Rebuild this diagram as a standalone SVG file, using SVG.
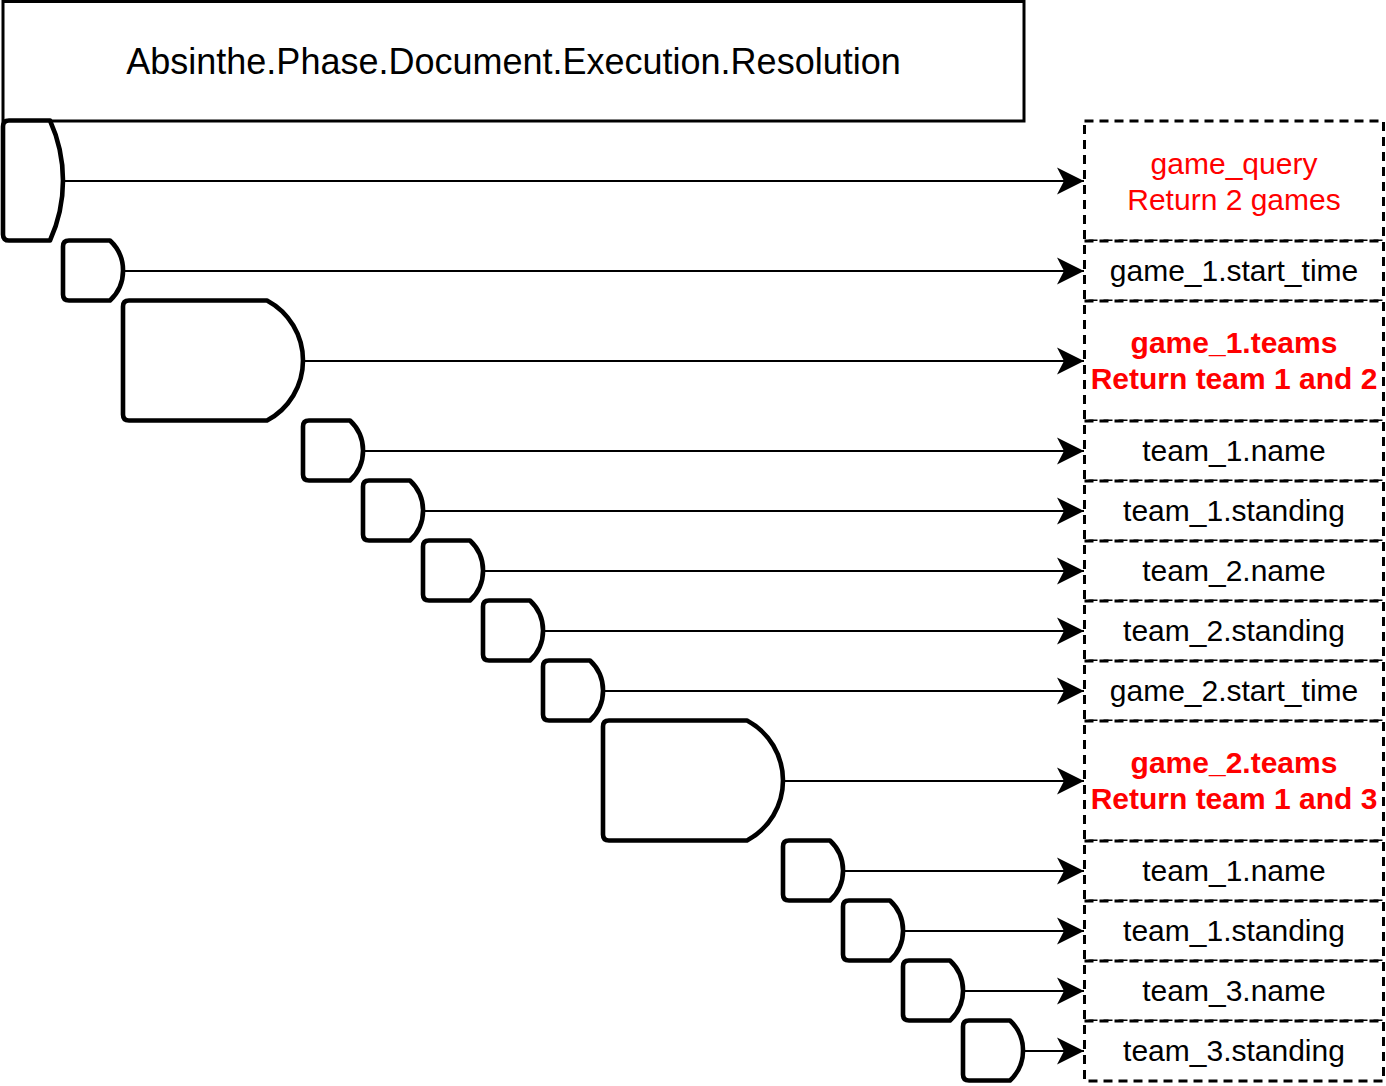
<svg xmlns="http://www.w3.org/2000/svg" width="1386" height="1086" viewBox="0 0 1386 1086">
<style>
  .title { fill: #ffffff; stroke: #000000; stroke-width: 3; }
  .gate { fill: #ffffff; stroke: #000000; stroke-width: 4.6; stroke-linejoin: round; }
  .box { fill: #ffffff; stroke: #000000; stroke-width: 3; stroke-dasharray: 9 6; }
  .conn { stroke: #000000; stroke-width: 2.2; fill: none; }
  text { font-family: "Liberation Sans", Arial, sans-serif; text-anchor: middle; }
  .t36 { font-size: 36px; fill: #000000; }
  .lbl { font-size: 30px; fill: #000000; }
  .red { font-size: 30px; fill: #ff0000; }
  .redb { font-size: 30px; fill: #ff0000; font-weight: bold; }
</style>
<defs>
  <marker id="arr" markerUnits="userSpaceOnUse" markerWidth="28" markerHeight="28" refX="27" refY="13.5" orient="auto" viewBox="0 0 28 27">
    <path d="M0,0 L27,13.5 L0,27 L7,13.5 Z" fill="#000000"/>
  </marker>
</defs>

<g id="resolution">
  <rect class="title" x="3" y="1.5" width="1021" height="119.5"/>
  <text class="t36" x="513.5" y="74">Absinthe.Phase.Document.Execution.Resolution</text>
</g>

<g id="gates">
  <path id="g1" class="gate" d="M9,120.5 L50,120.5 A145,145 0 0 1 50,240.5 L9,240.5 Q3,240.5 3,234.5 L3,126.5 Q3,120.5 9,120.5 Z"/>
  <path id="g2" class="gate" d="M69,240.5 L110,240.5 A41,41 0 0 1 110,300.5 L69,300.5 Q63,300.5 63,294.5 L63,246.5 Q63,240.5 69,240.5 Z"/>
  <path id="g3" class="gate" d="M129,300.5 L267,300.5 A68,68 0 0 1 267,420.5 L129,420.5 Q123,420.5 123,414.5 L123,306.5 Q123,300.5 129,300.5 Z"/>
  <path id="g4" class="gate" d="M309,420.5 L350,420.5 A41,41 0 0 1 350,480.5 L309,480.5 Q303,480.5 303,474.5 L303,426.5 Q303,420.5 309,420.5 Z"/>
  <path id="g5" class="gate" d="M369,480.5 L410,480.5 A41,41 0 0 1 410,540.5 L369,540.5 Q363,540.5 363,534.5 L363,486.5 Q363,480.5 369,480.5 Z"/>
  <path id="g6" class="gate" d="M429,540.5 L470,540.5 A41,41 0 0 1 470,600.5 L429,600.5 Q423,600.5 423,594.5 L423,546.5 Q423,540.5 429,540.5 Z"/>
  <path id="g7" class="gate" d="M489,600.5 L530,600.5 A41,41 0 0 1 530,660.5 L489,660.5 Q483,660.5 483,654.5 L483,606.5 Q483,600.5 489,600.5 Z"/>
  <path id="g8" class="gate" d="M549,660.5 L590,660.5 A41,41 0 0 1 590,720.5 L549,720.5 Q543,720.5 543,714.5 L543,666.5 Q543,660.5 549,660.5 Z"/>
  <path id="g9" class="gate" d="M609,720.5 L747,720.5 A68,68 0 0 1 747,840.5 L609,840.5 Q603,840.5 603,834.5 L603,726.5 Q603,720.5 609,720.5 Z"/>
  <path id="g10" class="gate" d="M789,840.5 L830,840.5 A41,41 0 0 1 830,900.5 L789,900.5 Q783,900.5 783,894.5 L783,846.5 Q783,840.5 789,840.5 Z"/>
  <path id="g11" class="gate" d="M849,900.5 L890,900.5 A41,41 0 0 1 890,960.5 L849,960.5 Q843,960.5 843,954.5 L843,906.5 Q843,900.5 849,900.5 Z"/>
  <path id="g12" class="gate" d="M909,960.5 L950,960.5 A41,41 0 0 1 950,1020.5 L909,1020.5 Q903,1020.5 903,1014.5 L903,966.5 Q903,960.5 909,960.5 Z"/>
  <path id="g13" class="gate" d="M969,1020.5 L1010,1020.5 A41,41 0 0 1 1010,1080.5 L969,1080.5 Q963,1080.5 963,1074.5 L963,1026.5 Q963,1020.5 969,1020.5 Z"/>
</g>

<g id="connectors">
  <line class="conn" x1="65" y1="181" x2="1084" y2="181" marker-end="url(#arr)"/>
  <line class="conn" x1="125" y1="271" x2="1084" y2="271" marker-end="url(#arr)"/>
  <line class="conn" x1="305" y1="361" x2="1084" y2="361" marker-end="url(#arr)"/>
  <line class="conn" x1="365" y1="451" x2="1084" y2="451" marker-end="url(#arr)"/>
  <line class="conn" x1="425" y1="511" x2="1084" y2="511" marker-end="url(#arr)"/>
  <line class="conn" x1="485" y1="571" x2="1084" y2="571" marker-end="url(#arr)"/>
  <line class="conn" x1="545" y1="631" x2="1084" y2="631" marker-end="url(#arr)"/>
  <line class="conn" x1="605" y1="691" x2="1084" y2="691" marker-end="url(#arr)"/>
  <line class="conn" x1="785" y1="781" x2="1084" y2="781" marker-end="url(#arr)"/>
  <line class="conn" x1="845" y1="871" x2="1084" y2="871" marker-end="url(#arr)"/>
  <line class="conn" x1="905" y1="931" x2="1084" y2="931" marker-end="url(#arr)"/>
  <line class="conn" x1="965" y1="991" x2="1084" y2="991" marker-end="url(#arr)"/>
  <line class="conn" x1="1025" y1="1051" x2="1084" y2="1051" marker-end="url(#arr)"/>
</g>

<g id="n1">
  <rect class="box" x="1084.5" y="121" width="299" height="120"/>
  <text class="red" x="1234" y="173.5">game_query</text>
  <text class="red" x="1234" y="209.5">Return 2 games</text>
</g>
<g id="n2">
  <rect class="box" x="1084.5" y="241" width="299" height="60"/>
  <text class="lbl" x="1234" y="281">game_1.start_time</text>
</g>
<g id="n3">
  <rect class="box" x="1084.5" y="301" width="299" height="120"/>
  <text class="redb" x="1234" y="353">game_1.teams</text>
  <text class="redb" x="1234" y="389">Return team 1 and 2</text>
</g>
<g id="n4">
  <rect class="box" x="1084.5" y="421" width="299" height="60"/>
  <text class="lbl" x="1234" y="461">team_1.name</text>
</g>
<g id="n5">
  <rect class="box" x="1084.5" y="481" width="299" height="60"/>
  <text class="lbl" x="1234" y="521">team_1.standing</text>
</g>
<g id="n6">
  <rect class="box" x="1084.5" y="541" width="299" height="60"/>
  <text class="lbl" x="1234" y="581">team_2.name</text>
</g>
<g id="n7">
  <rect class="box" x="1084.5" y="601" width="299" height="60"/>
  <text class="lbl" x="1234" y="641">team_2.standing</text>
</g>
<g id="n8">
  <rect class="box" x="1084.5" y="661" width="299" height="60"/>
  <text class="lbl" x="1234" y="701">game_2.start_time</text>
</g>
<g id="n9">
  <rect class="box" x="1084.5" y="721" width="299" height="120"/>
  <text class="redb" x="1234" y="773">game_2.teams</text>
  <text class="redb" x="1234" y="809">Return team 1 and 3</text>
</g>
<g id="n10">
  <rect class="box" x="1084.5" y="841" width="299" height="60"/>
  <text class="lbl" x="1234" y="881">team_1.name</text>
</g>
<g id="n11">
  <rect class="box" x="1084.5" y="901" width="299" height="60"/>
  <text class="lbl" x="1234" y="941">team_1.standing</text>
</g>
<g id="n12">
  <rect class="box" x="1084.5" y="961" width="299" height="60"/>
  <text class="lbl" x="1234" y="1001">team_3.name</text>
</g>
<g id="n13">
  <rect class="box" x="1084.5" y="1021" width="299" height="60"/>
  <text class="lbl" x="1234" y="1061">team_3.standing</text>
</g>
</svg>
